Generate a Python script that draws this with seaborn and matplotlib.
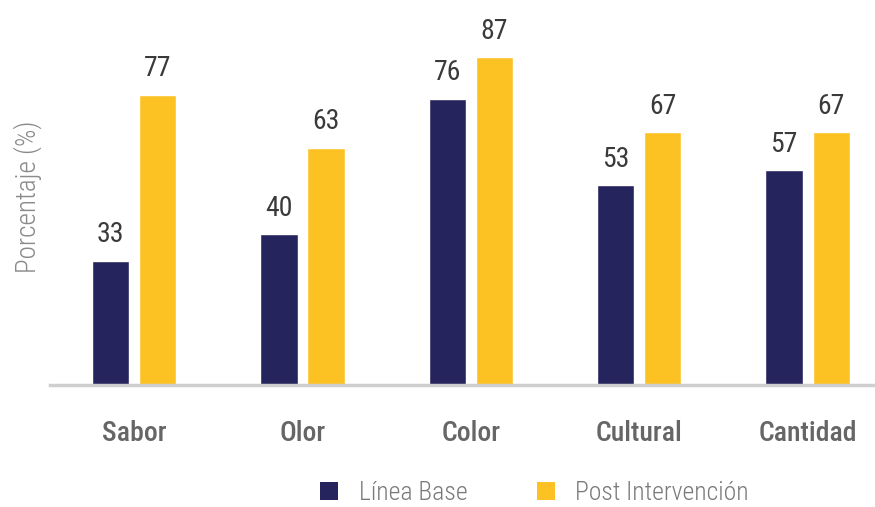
import matplotlib
matplotlib.use("Agg")
import matplotlib.pyplot as plt
import seaborn as sns
import pandas as pd
from matplotlib.patches import Patch

categories = ["Sabor", "Olor", "Color", "Cultural", "Cantidad"]
series_names = ["Línea Base", "Post Intervención"]
linea_base = [33, 40, 76, 53, 57]
post_intervencion = [77, 63, 87, 67, 67]
colors = ["#25245d", "#fcc223"]

df = pd.DataFrame({
    "cat": categories * 2,
    "serie": [series_names[0]] * len(categories) + [series_names[1]] * len(categories),
    "val": linea_base + post_intervencion,
})

sns.set_theme(style="white")
plt.rcParams["font.family"] = ["Roboto Condensed", "DejaVu Sans"]
plt.rcParams["font.stretch"] = "condensed"

fig = plt.figure(figsize=(8.75, 5.07), dpi=100)
ax = fig.add_axes([0.057, 0.2406, 0.943, 0.7434])

sns.barplot(data=df, x="cat", y="val", hue="serie", palette=colors,
            width=0.56, gap=0.21, ax=ax, legend=False, saturation=1)

for cont in ax.containers:
    ax.bar_label(cont, fmt="%d", padding=9, fontsize=20, color="#3a3a3a",
                 fontweight="normal")

ax.set_ylim(0, 100)
ax.set_xlim(-0.5, 4.4)
ax.set_yticks([])
ax.set_xlabel("")
ax.set_ylabel("Porcentaje (%)", fontsize=19.5, color="#8a8a8a", labelpad=6,
              fontweight="light")
for s in ["top", "right", "left"]:
    ax.spines[s].set_visible(False)
ax.spines["bottom"].set_color("#cfcfcf")
ax.spines["bottom"].set_linewidth(2.5)
ax.tick_params(axis="x", length=0, pad=25)
for lbl in ax.get_xticklabels():
    lbl.set_fontsize(20)
    lbl.set_fontweight("medium")
    lbl.set_color("#666666")

handles = [Patch(facecolor=c, edgecolor="none") for c in colors]
fig.legend(handles, series_names, loc="center", bbox_to_anchor=(0.611, 0.027),
           ncol=2, frameon=False, prop={"size": 18.5, "weight": "light"},
           handlelength=0.7, handleheight=0.7,
           columnspacing=2.7, handletextpad=0.8, labelcolor="#7a7a7a")

fig.savefig("out.png", dpi=100)
